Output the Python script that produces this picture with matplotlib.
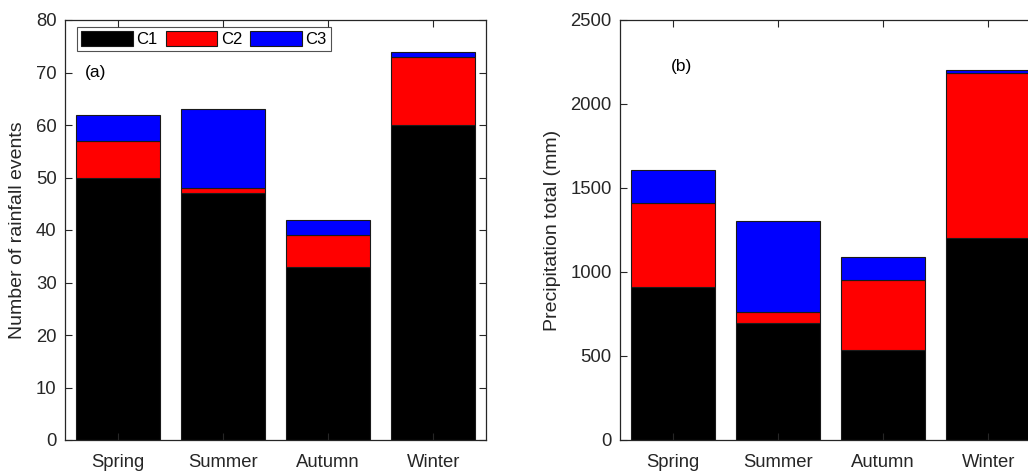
import matplotlib
matplotlib.use("Agg")
import matplotlib.pyplot as plt
import numpy as np

plt.rcParams['font.family'] = ['Liberation Sans', 'DejaVu Sans']

seasons = ["Spring", "Summer", "Autumn", "Winter"]
series_names = ["C1", "C2", "C3"]
colors = ["#000000", "#ff0000", "#0000ff"]

# Number of rainfall events per season and class
events_c1 = [50, 47, 33, 60]
events_c2 = [7, 1, 6, 13]
events_c3 = [5, 15, 3, 1]

# Precipitation total (mm) per season and class
precip_c1 = [912, 698, 536, 1202]
precip_c2 = [497, 66, 416, 984]
precip_c3 = [198, 540, 135, 16]

text_color = "#262626"
spine_color = "#262626"

fig = plt.figure(figsize=(10.28, 4.72), dpi=100)
ax_a = fig.add_axes([65 / 1028, 32 / 472, 421 / 1028, 420 / 472])
ax_b = fig.add_axes([620 / 1028, 32 / 472, 421 / 1028, 420 / 472])

x = np.arange(1, len(seasons) + 1)


def stacked(ax, layers):
    bottom = np.zeros(len(seasons))
    handles = []
    for vals, col, name in zip(layers, colors, series_names):
        h = ax.bar(x, vals, width=0.8, bottom=bottom, color=col,
                   edgecolor="#1a1a1a", linewidth=0.8, label=name)
        bottom = bottom + np.asarray(vals)
        handles.append(h)
    return handles


def style(ax, ylim, yticks, ylabel):
    ax.set_xlim(0.5, 4.5)
    ax.set_ylim(*ylim)
    ax.set_yticks(yticks)
    ax.set_xticks(x)
    ax.set_xticklabels(seasons)
    ax.tick_params(direction="in", top=True, right=True, length=5,
                   width=0.8, colors=spine_color, labelcolor=text_color,
                   labelsize=13.3, pad=6)
    ax.tick_params(axis="x", pad=10)
    for s in ax.spines.values():
        s.set_color(spine_color)
        s.set_linewidth(0.9)
    ax.set_ylabel(ylabel, fontsize=14, color=text_color, labelpad=7)


handles = stacked(ax_a, [events_c1, events_c2, events_c3])
style(ax_a, (0, 80), np.arange(0, 81, 10), "Number of rainfall events")
ax_a.text(0.047, 0.875, "(a)", transform=ax_a.transAxes, fontsize=12.5,
          color="#000000", va="center", ha="left")
leg = ax_a.legend(handles=handles, loc="upper left",
                  bbox_to_anchor=(0.0285, 0.984), ncol=3, fontsize=12,
                  frameon=True, fancybox=False, edgecolor="#262626",
                  handlelength=3.1, handleheight=1.0, handletextpad=0.2,
                  columnspacing=0.5, borderpad=0.25, borderaxespad=0)
leg.get_frame().set_linewidth(0.8)

stacked(ax_b, [precip_c1, precip_c2, precip_c3])
style(ax_b, (0, 2500), np.arange(0, 2501, 500), "Precipitation total (mm)")
ax_b.text(0.12, 0.89, "(b)", transform=ax_b.transAxes, fontsize=12.5,
          color="#000000", va="center", ha="left")

fig.savefig("out.png", dpi=100)
